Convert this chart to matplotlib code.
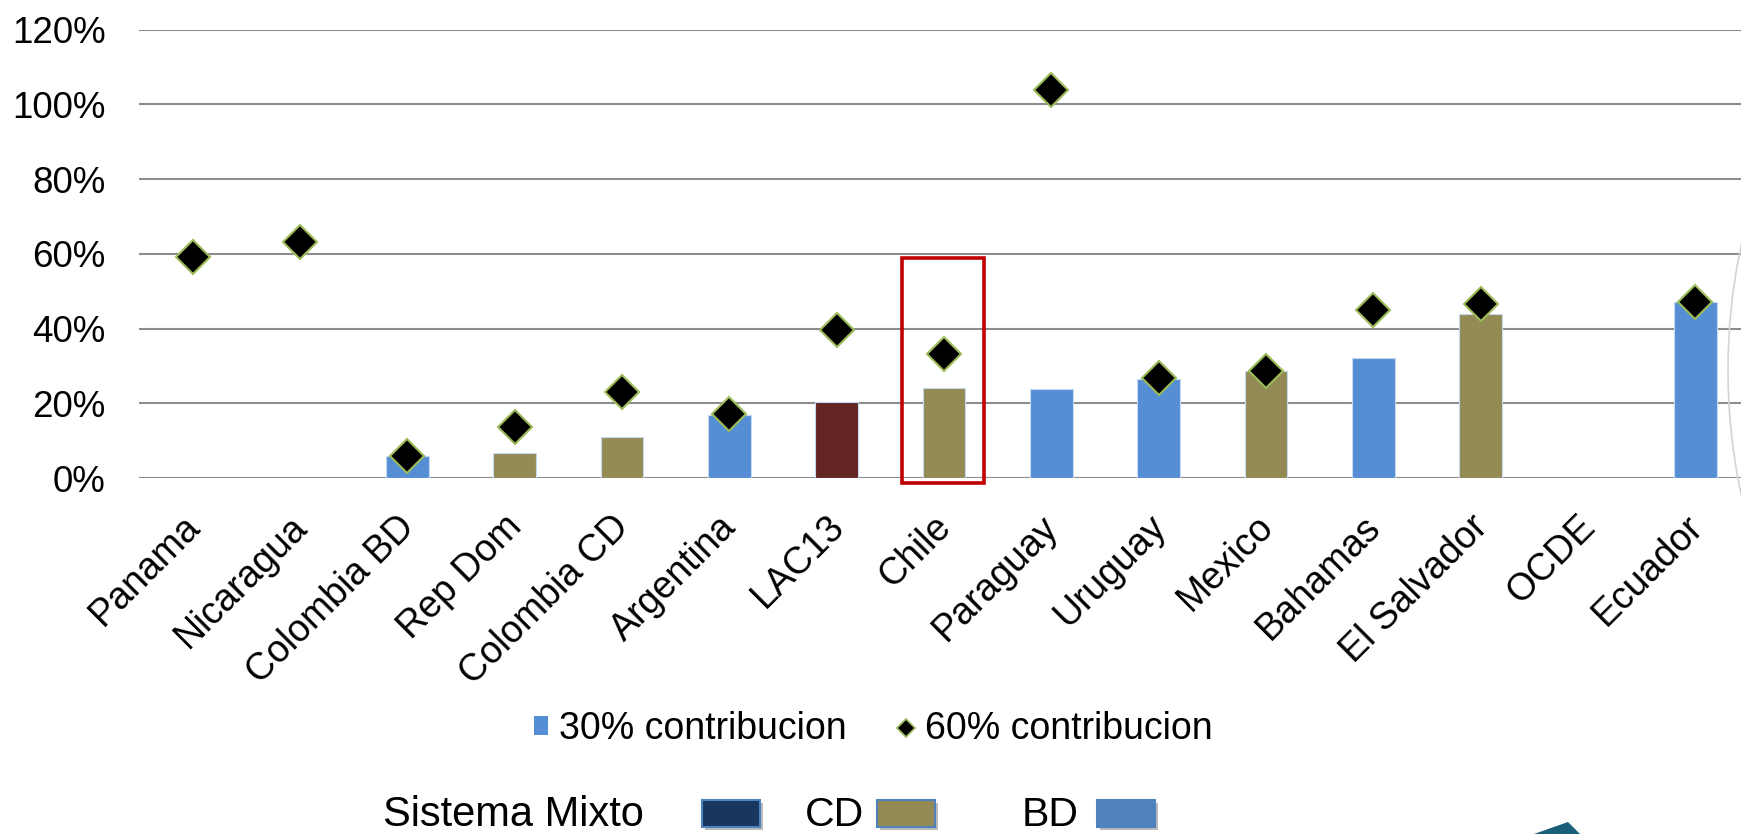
import numpy as np
import matplotlib
matplotlib.use("Agg")
import matplotlib.pyplot as plt
from matplotlib.patches import Rectangle, Patch, Circle, Polygon
from matplotlib.lines import Line2D
from matplotlib.transforms import ScaledTranslation

plt.rcParams['font.family'] = ['Liberation Sans', 'DejaVu Sans']

# data
countries = ['Panama', 'Nicaragua', 'Colombia BD', 'Rep Dom', 'Colombia CD',
             'Argentina', 'LAC13', 'Chile', 'Paraguay', 'Uruguay', 'Mexico',
             'Bahamas', 'El Salvador', 'OCDE', 'Ecuador']
contrib_30 = [np.nan, np.nan, 0.058, 0.066, 0.110, 0.169, 0.203, 0.240,
              0.239, 0.266, 0.287, 0.320, 0.440, np.nan, 0.470]
contrib_60 = [0.592, 0.631, 0.058, 0.136, 0.231, 0.170, 0.396, 0.331,
              1.039, 0.268, 0.287, 0.451, 0.467, np.nan, 0.472]
system = ['', '', 'BD', 'CD', 'CD', 'BD', 'Mixto', 'CD', 'BD', 'BD', 'CD',
          'BD', 'CD', '', 'BD']

BLUE = '#558ed5'
OLIVE = '#948a54'
MAROON = '#632523'
bar_colors = {'BD': BLUE, 'CD': OLIVE, 'Mixto': MAROON, '': BLUE}
GRID = '#8c8c8c'
FS = 26.5

W, H = 1741, 834
fig = plt.figure(figsize=(W / 100, H / 100), dpi=100)
# plot area runs slightly past the right edge, as in the cropped original
ax = fig.add_axes([139 / W, 1 - 478 / H, 1610 / W, (478 - 29.7) / H])

xs = np.arange(len(countries))
ax.bar(xs, contrib_30, width=0.4, color=[bar_colors[s] for s in system],
       edgecolor='#c6d9f0', linewidth=0.8, zorder=2)
ax.plot(xs, contrib_60, linestyle='none', marker='D', markersize=17,
        markerfacecolor='black', markeredgecolor='#9bbb59',
        markeredgewidth=1.5, zorder=3, clip_on=False)

ax.set_xlim(-0.5, len(countries) - 0.5)
ax.set_ylim(0, 1.2)
ax.set_yticks(np.arange(0, 1.21, 0.2))
ax.set_yticklabels([f'{int(round(v * 100))}%' for v in np.arange(0, 1.21, 0.2)],
                   fontsize=FS)
ax.yaxis.grid(True, color=GRID, linewidth=1.5, zorder=1)
ax.set_axisbelow(True)
for s in ax.spines.values():
    s.set_visible(False)
ax.tick_params(axis='y', length=0, pad=24)
ax.tick_params(axis='x', length=0, pad=22)
ax.set_xticks(xs)
ax.set_xticklabels(countries, rotation=45, ha='right', va='top',
                   rotation_mode='anchor', fontsize=FS + 0.5)
shift = ScaledTranslation(-0.11, 0, fig.dpi_scale_trans)
for lab in ax.get_xticklabels():
    lab.set_transform(lab.get_transform() + shift)

# highlight box around Chile
ax.add_patch(Rectangle((6.609, -0.013), 0.764, 0.602, fill=False,
                       edgecolor='#c00000', linewidth=2.6, zorder=4,
                       clip_on=False))

# legend for the two series
handles = [Patch(facecolor=BLUE, edgecolor='none'),
           Line2D([], [], linestyle='none', marker='D', markersize=9,
                  markerfacecolor='black', markeredgecolor='#9bbb59',
                  markeredgewidth=1.2)]
fig.legend(handles, ['30% contribucion', '60% contribucion'], ncol=2,
           loc='center', bbox_to_anchor=(873 / W, 1 - 729 / H),
           frameon=False, fontsize=FS + 0.5, handlelength=0.38,
           handleheight=0.38, handletextpad=0.3, columnspacing=1.4)

# system key at the bottom
fig.text(383 / W, 1 - 815 / H, 'Sistema Mixto', fontsize=30, va='center')
fig.text(805 / W, 1 - 815 / H, 'CD', fontsize=29.5, va='center')
fig.text(1022 / W, 1 - 815 / H, 'BD', fontsize=29.5, va='center')
for x0, col in [(702, '#17375e'), (877, OLIVE), (1097, '#4f81bd')]:
    fig.patches.append(Rectangle(((x0 + 3) / W, 1 - 830 / H), 58 / W, 27 / H,
                                 transform=fig.transFigure,
                                 facecolor='#bbbbbb', edgecolor='none'))
    fig.patches.append(Rectangle((x0 / W, 1 - 827 / H), 58 / W, 27 / H,
                                 transform=fig.transFigure, facecolor=col,
                                 edgecolor='#4f81bd', linewidth=1.5))

# decorative remnants at the right edge
fig.patches.append(Circle(((1728 + 600) / 100, (834 - 370) / 100), 6.0,
                          transform=fig.dpi_scale_trans, fill=False,
                          edgecolor='#d4d4d4', linewidth=1.2))
fig.patches.append(Polygon([(1534 / W, 0), (1568 / W, 1 - 822 / H),
                            (1580 / W, 0)], closed=True,
                           transform=fig.transFigure, facecolor='#1b5e7a',
                           edgecolor='none'))

fig.savefig('out.png', dpi=100)
